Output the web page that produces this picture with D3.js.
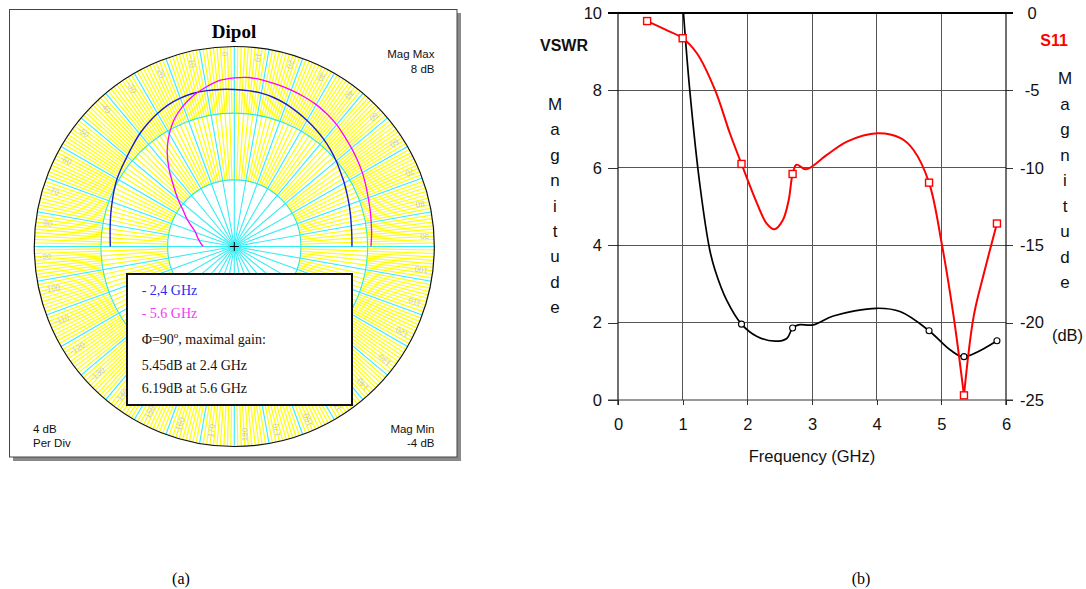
<!DOCTYPE html>
<html><head><meta charset="utf-8">
<script src="https://cdn.jsdelivr.net/npm/d3@7"></script>
<style>body{margin:0;background:#fff;} svg{display:block}</style>
</head><body>
<svg id="c" width="1086" height="589"></svg>
<script>
// ---------- Data: polar (a) ----------
const polarAngles = [-90,-85,-80,-75,-70,-65,-60,-55,-50,-45,-40,-35,-30,-25,-20,-15,-10,-5,0,5,10,15,20,25,30,35,40,45,50,55,60,65,70,75,80,85,90];
const gain24 = [3.44,3.48,3.56,3.67,3.80,3.96,4.12,4.25,4.40,4.60,4.83,5.03,5.22,5.38,5.47,5.52,5.50,5.46,5.42,5.39,5.34,5.24,5.09,4.91,4.73,4.55,4.37,4.18,3.98,3.78,3.62,3.46,3.33,3.22,3.13,3.08,3.06];
const gain56 = [-2.14,-1.99,-1.85,-1.69,-1.53,-1.19,-0.73,-0.27,0.41,1.16,2.10,3.02,3.80,4.47,4.98,5.40,5.72,6.00,6.12,6.18,6.12,6.05,5.98,5.91,5.83,5.70,5.55,5.35,5.18,5.02,4.87,4.70,4.55,4.44,4.34,4.27,4.20];
const ringTicks = [-4, 0, 4, 8];
const rimLabels = [-170,-160,-150,-140,-130,-120,-110,-100,-90,-80,-70,-60,-50,-40,-30,-20,-10,0,10,20,30,40,50,60,70,80,90,100,110,120,130,140,150,160,170,180];
const legendLines = ["- 2,4 GHz", "- 5.6 GHz", "Φ=90", "5.45dB at 2.4 GHz", "6.19dB at 5.6 GHz"];

// ---------- Data: VSWR / S11 (b) ----------
const freqTicks = [0,1,2,3,4,5,6];
const vswrTicks = [0,2,4,6,8,10];
const s11Ticks = [0,-5,-10,-15,-20,-25];
const s11Freq = [0.45,0.75,1.0,1.22,1.5,1.73,1.91,2.15,2.30,2.42,2.55,2.64,2.70,2.76,2.91,3.23,3.54,4.01,4.37,4.57,4.81,5.01,5.19,5.35,5.50,5.66,5.86];
const s11Db   = [-0.52,-1.1,-1.63,-2.6,-4.97,-7.77,-9.75,-12.3,-13.6,-13.97,-13.37,-12.08,-10.4,-9.8,-10.1,-9.17,-8.31,-7.77,-8.09,-8.85,-10.96,-14.99,-19.6,-24.7,-19.6,-16.8,-13.6];
const s11MarkFreq = [0.45,1.0,1.91,2.70,4.81,5.35,5.86];
const s11MarkDb   = [-0.52,-1.63,-9.75,-10.4,-10.96,-24.7,-13.6];
const vswrFreq = [0.99,1.11,1.27,1.42,1.50,1.68,1.91,2.15,2.43,2.61,2.70,2.79,3.02,3.33,4.0,4.37,4.81,5.14,5.35,5.86];
const vswrVal  = [10.5,8.0,5.51,3.87,3.36,2.58,1.96,1.64,1.52,1.59,1.86,1.94,1.94,2.17,2.37,2.28,1.79,1.29,1.12,1.53];
const vswrMarkFreq = [1.91,2.70,4.81,5.35,5.86];
const vswrMarkVal  = [1.96,1.86,1.79,1.12,1.53];

const svg = d3.select("#c");
const SANS = "'Liberation Sans', Arial, sans-serif";
const SERIF = "'Liberation Serif', 'Times New Roman', serif";

// ================= (a) polar =================
const pa = svg.append("g");
pa.append("rect").attr("x",13).attr("y",13).attr("width",448).attr("height",448).attr("fill","#8a8a8a");
pa.append("rect").attr("x",9.5).attr("y",9.5).attr("width",447.5).attr("height",447.5).attr("fill","#fff").attr("stroke","#444").attr("stroke-width",1);

const cx = 234.3, cy = 246.5, R = 200;
const rScale = d3.scaleLinear().domain([ringTicks[0], ringTicks[ringTicks.length-1]]).range([0, R]);
const rad = d => d*Math.PI/180;
const P = (a, r) => [cx + r*Math.sin(rad(a)), cy - r*Math.cos(rad(a))];
const r1 = rScale(ringTicks[1]), r2 = rScale(ringTicks[2]);

const grid = pa.append("g");
// yellow fine radials
d3.range(0,360,2).filter(a=>a%10!==0).forEach(a=>{
  const p0=P(a,r1), p1=P(a,r2);
  grid.append("line").attr("x1",p0[0]).attr("y1",p0[1]).attr("x2",p1[0]).attr("y2",p1[1]).attr("stroke","#ffff00").attr("stroke-width",1.2);
});
d3.range(0,360,1).filter(a=>a%10!==0).forEach(a=>{
  const p0=P(a,r2), p1=P(a,R);
  grid.append("line").attr("x1",p0[0]).attr("y1",p0[1]).attr("x2",p1[0]).attr("y2",p1[1]).attr("stroke","#ffff00").attr("stroke-width",1.2);
});
// cyan radials
d3.range(0,360,10).forEach(a=>{
  const p1=P(a,R);
  grid.append("line").attr("x1",cx).attr("y1",cy).attr("x2",p1[0]).attr("y2",p1[1]).attr("stroke","#33eef5").attr("stroke-width",1.1);
});
// rings
[r1, r2].forEach(r=>grid.append("circle").attr("cx",cx).attr("cy",cy).attr("r",r).attr("fill","none").attr("stroke","#33e6dc").attr("stroke-width",1.1));
grid.append("circle").attr("cx",cx).attr("cy",cy).attr("r",R).attr("fill","none").attr("stroke","#111").attr("stroke-width",1.2);

// rim labels
rimLabels.forEach(a=>{
  const p=P(a-3, 195);
  pa.append("text").attr("x",p[0]).attr("y",p[1])
    .attr("transform",`rotate(${a+90},${p[0]},${p[1]})`)
    .attr("dominant-baseline","middle").attr("text-anchor","start")
    .attr("font-family",SANS).attr("font-size",8).attr("fill","#c8c8c8").text(a);
});

// curves
const radial = d3.lineRadial().angle(d=>rad(d[0])).radius(d=>rScale(d[1])).curve(d3.curveCatmullRom);
const cg = pa.append("g").attr("transform",`translate(${cx},${cy})`);
cg.append("path").attr("d",radial(polarAngles.map((a,i)=>[a,gain24[i]]))).attr("fill","none").attr("stroke","#1c1cd0").attr("stroke-width",1.4);
cg.append("path").attr("d",radial(polarAngles.map((a,i)=>[a,gain56[i]]))).attr("fill","none").attr("stroke","#ff00ff").attr("stroke-width",1.3);

// center marker
pa.append("line").attr("x1",cx-4.5).attr("x2",cx+4.5).attr("y1",cy).attr("y2",cy).attr("stroke","#000").attr("stroke-width",1);
pa.append("line").attr("x1",cx).attr("x2",cx).attr("y1",cy-4.5).attr("y2",cy+4.5).attr("stroke","#000").attr("stroke-width",1);

// title and corner texts
pa.append("text").attr("x",234).attr("y",37.5).attr("text-anchor","middle").attr("font-family",SERIF).attr("font-weight","bold").attr("font-size",19).text("Dipol");
const corner = (x,y,anchor,t)=>pa.append("text").attr("x",x).attr("y",y).attr("text-anchor",anchor).attr("font-family",SANS).attr("font-size",11.5).attr("fill","#111").text(t);
corner(434.5,57.5,"end","Mag Max");
corner(434.5,72.5,"end",ringTicks[3]+" dB");
corner(33,432.5,"start",(ringTicks[1]-ringTicks[0])+" dB");
corner(33,446.7,"start","Per Div");
corner(434.5,432.5,"end","Mag Min");
corner(434.5,446.7,"end",ringTicks[0]+" dB");

// legend box
pa.append("rect").attr("x",127).attr("y",274).attr("width",225).attr("height",131).attr("fill","#fff").attr("stroke","#111").attr("stroke-width",2);
const lg = (y,color,t)=>pa.append("text").attr("x",141.7).attr("y",y).attr("font-family",SERIF).attr("font-size",14).attr("fill",color).text(t);
lg(295,"#2b2bf0",legendLines[0]);
lg(318.3,"#f03cf0",legendLines[1]);
const phi = lg(344.3,"#111",legendLines[2]);
phi.append("tspan").attr("font-size",9).attr("dy",-6).text("o");
phi.append("tspan").attr("dy",6).text(", maximal gain:");
lg(370,"#111",legendLines[3]);
lg(392.7,"#111",legendLines[4]);

// ================= (b) VSWR / S11 =================
const x = d3.scaleLinear().domain([freqTicks[0], freqTicks[freqTicks.length-1]]).range([618,1006]);
const yL = d3.scaleLinear().domain([vswrTicks[0], vswrTicks[vswrTicks.length-1]]).range([400,13]);
const yR = d3.scaleLinear().domain([s11Ticks[s11Ticks.length-1], s11Ticks[0]]).range([400,13]);
const pb = svg.append("g");
const fmt = d => String(d);

// grid
const gg = pb.append("g").attr("stroke","#555").attr("stroke-width",1).attr("shape-rendering","crispEdges");
vswrTicks.slice(1,-1).forEach(v=>gg.append("line").attr("x1",x(0)).attr("x2",x(6)).attr("y1",yL(v)).attr("y2",yL(v)));
freqTicks.slice(1,-1).forEach(f=>gg.append("line").attr("x1",x(f)).attr("x2",x(f)).attr("y1",yL(10)).attr("y2",yL(0)));

const styleAxis = g=>{
  g.select(".domain").remove();
  g.selectAll(".tick line").attr("stroke","#333").attr("shape-rendering","crispEdges");
  g.selectAll("text").attr("font-family",SANS).attr("font-size",16.5).attr("fill","#111");
};
pb.append("g").attr("transform",`translate(${x(0)},0)`).call(d3.axisLeft(yL).tickValues(vswrTicks).tickFormat(fmt).tickSize(10).tickPadding(6)).call(styleAxis);
pb.append("g").attr("transform",`translate(0,${yL(0)})`).call(d3.axisBottom(x).tickValues(freqTicks).tickFormat(fmt).tickSize(5).tickPadding(13)).call(styleAxis);
const ar = pb.append("g").attr("transform",`translate(${x(6)},0)`).call(d3.axisRight(yR).tickValues(s11Ticks).tickFormat(fmt).tickSize(7).tickPadding(6)).call(styleAxis);
ar.selectAll("text").attr("text-anchor","middle").attr("x",26);

// frame
pb.append("line").attr("x1",x(0)).attr("x2",x(0)).attr("y1",yL(10)).attr("y2",yL(0)+5).attr("stroke","#111").attr("stroke-width",1.2);
pb.append("line").attr("x1",x(6)).attr("x2",x(6)).attr("y1",yL(10)).attr("y2",yL(0)+5).attr("stroke","#111").attr("stroke-width",1.2);
pb.append("line").attr("x1",x(0)-10).attr("x2",x(6)+7).attr("y1",yL(0)).attr("y2",yL(0)).attr("stroke","#333").attr("stroke-width",1);
pb.append("line").attr("x1",x(0)-10).attr("x2",x(6)+7).attr("y1",yL(10)).attr("y2",yL(10)).attr("stroke","#000").attr("stroke-width",2.2);

// clip
svg.append("defs").append("clipPath").attr("id","plotclip").append("rect").attr("x",x(0)).attr("y",yL(10)).attr("width",x(6)-x(0)).attr("height",yL(0)-yL(10));

// VSWR line
const lineL = d3.line().x(d=>x(d[0])).y(d=>yL(d[1])).curve(d3.curveCatmullRom);
pb.append("path").attr("clip-path","url(#plotclip)")
  .attr("d",lineL(vswrFreq.map((f,i)=>[f,vswrVal[i]]))).attr("fill","none").attr("stroke","#000").attr("stroke-width",1.7);

// S11 line (split at the sharp minimum)
const lineR = d3.line().x(d=>x(d[0])).y(d=>yR(d[1])).curve(d3.curveCatmullRom);
const s11Pts = s11Freq.map((f,i)=>[f,s11Db[i]]);
const iMin = s11Db.indexOf(d3.min(s11Db));
[s11Pts.slice(0,iMin+1), s11Pts.slice(iMin)].forEach(seg=>
  pb.append("path").attr("d",lineR(seg)).attr("fill","none").attr("stroke","#ff0000").attr("stroke-width",2).attr("stroke-linejoin","round"));

// markers
vswrMarkFreq.forEach((f,i)=>pb.append("circle").attr("cx",x(f)).attr("cy",yL(vswrMarkVal[i])).attr("r",3).attr("fill","#fff").attr("stroke","#000").attr("stroke-width",1.1));
s11MarkFreq.forEach((f,i)=>pb.append("rect").attr("x",x(f)-3.5).attr("y",yR(s11MarkDb[i])-3.5).attr("width",7).attr("height",7).attr("fill","#fff").attr("stroke","#ff0000").attr("stroke-width",1.4));

// axis titles
pb.append("text").attr("x",540).attr("y",50.7).attr("font-family",SANS).attr("font-weight","bold").attr("font-size",16).attr("fill","#111").text("VSWR");
pb.append("text").attr("x",1054).attr("y",46).attr("text-anchor","middle").attr("font-family",SANS).attr("font-weight","bold").attr("font-size",16).attr("fill","#ff0000").text("S11");
const word = "Magnitude".split("");
word.forEach((ch,i)=>{
  pb.append("text").attr("x",555).attr("y",110+25.4*i).attr("text-anchor","middle").attr("font-family",SANS).attr("font-size",17).attr("fill","#111").text(ch);
  pb.append("text").attr("x",1065).attr("y",84.3+25.5*i).attr("text-anchor","middle").attr("font-family",SANS).attr("font-size",17).attr("fill","#111").text(ch);
});
pb.append("text").attr("x",1067.5).attr("y",340.5).attr("text-anchor","middle").attr("font-family",SANS).attr("font-size",16.5).attr("fill","#111").text("(dB)");
pb.append("text").attr("x",812).attr("y",461.5).attr("text-anchor","middle").attr("font-family",SANS).attr("font-size",16.5).attr("fill","#111").text("Frequency (GHz)");

// captions
svg.append("text").attr("x",181).attr("y",584).attr("text-anchor","middle").attr("font-family",SERIF).attr("font-size",16).text("(a)");
svg.append("text").attr("x",861).attr("y",584).attr("text-anchor","middle").attr("font-family",SERIF).attr("font-size",16).text("(b)");
</script>
</body></html>
